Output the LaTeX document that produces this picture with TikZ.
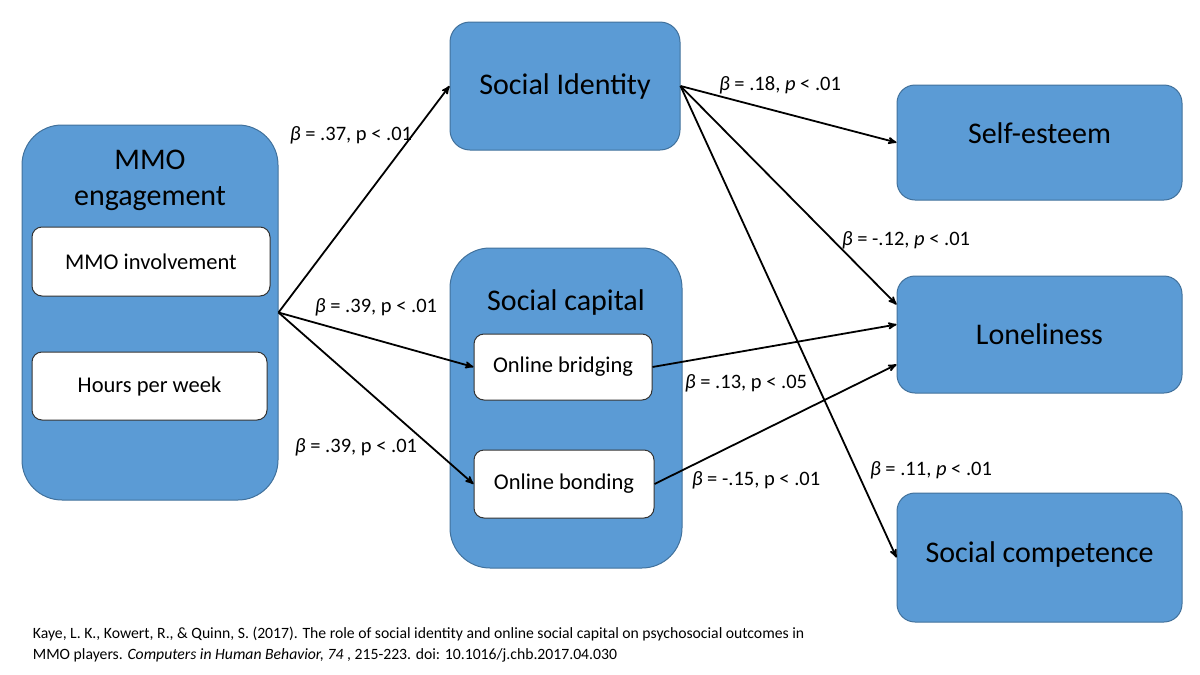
\documentclass[tikz,border=0pt]{standalone}
\usepackage{fontspec}
\setmainfont{Carlito}
\usetikzlibrary{arrows,positioning}
\definecolor{boxblue}{HTML}{5B9BD5}
\definecolor{boxline}{HTML}{41719C}
\newcommand{\bet}{{\itshape β}}

\begin{document}
\begin{tikzpicture}[x=1pt,y=-1pt,->,>=stealth',
                    line width=1.8pt]
  \tikzstyle{group}=[rectangle,draw=boxline,fill=boxblue,line width=1pt,
                     rounded corners=40pt,inner sep=0pt]
  \tikzstyle{outcome}=[rectangle,draw=boxline,fill=boxblue,line width=1pt,
                     rounded corners=18pt,inner sep=0pt,minimum width=285pt,
                     font=\fontsize{30}{36}\selectfont]
  \tikzstyle{item}=[rectangle,draw=black!80,fill=white,line width=1pt,
                     rounded corners=10pt,inner sep=0pt,
                     font=\fontsize{22.5}{27}\selectfont]
  \tikzstyle{coef}=[font=\fontsize{20.5}{24}\selectfont]

  \useasboundingbox (0,0) rectangle (1200,675);

  % left block
  \node[group,minimum width=256pt,minimum height=375pt] (mmo) at (150,312.5) {};
  \node[font=\fontsize{30}{36}\selectfont,align=center] (mmotitle) at (150,180) {MMO\\engagement};
  \node[item,minimum width=238pt,minimum height=69pt] (inv) at (151,261.5) {MMO involvement};
  \node[item,minimum width=235pt,minimum height=68pt] (hrs) at (149.5,386) {Hours per week};

  % middle
  \node[outcome,rounded corners=20pt,minimum width=230pt,minimum height=128pt] (si) at (565,86) {\raisebox{4pt}{Social Identity}};
  \node[group,minimum width=232pt,minimum height=320pt] (cap) at (566,408) {};
  \node[font=\fontsize{30}{36}\selectfont] (captitle) at (566,302) {Social capital};
  \node[item,minimum width=178pt,minimum height=66pt] (brd) at (563,367) {Online bridging};
  \node[item,minimum width=180pt,minimum height=68pt] (bnd) at (564,484) {Online bonding};

  % outcomes
  \node[outcome,minimum height=115pt] (se) at (1039.5,142.5) {\raisebox{18pt}{Self-esteem}};
  \node[outcome,minimum height=117pt] (lon) at (1039.5,334.5) {Loneliness};
  \node[outcome,minimum height=129pt] (sc) at (1039.5,557.5) {\raisebox{10pt}{Social competence}};

  % paths
  \draw (mmo.east) -- (si.west);
  \draw (mmo.east) -- (brd.west);
  \draw (mmo.east) -- (bnd.west);
  \draw (si.east) -- (se.west);
  \draw (si.east) -- ([yshift=30pt]lon.west);
  \draw (si.east) -- (sc.west);
  \draw (brd.east) -- ([yshift=10pt]lon.west);
  \draw (bnd.east) -- ([yshift=-30pt]lon.west);

  \node[coef] (c1) at (351,135) {\bet{} = .37, p < .01};
  \node[coef] (c2) at (376,307) {\bet{} = .39, p < .01};
  \node[coef] (c3) at (356,447) {\bet{} = .39, p < .01};
  \node[coef] (c4) at (780,85) {\bet{} = .18, \textit{p} < .01};
  \node[coef] (c5) at (906,240) {\bet{} = -.12, \textit{p} < .01};
  \node[coef] (c6) at (746,383) {\bet{} = .13, p < .05};
  \node[coef] (c7) at (756,480) {\bet{} = -.15, p < .01};
  \node[coef] (c8) at (931,470) {\bet{} = .11, \textit{p} < .01};

  \node[anchor=north west,align=left,font=\fontsize{15.7}{21}\selectfont,inner sep=0pt] (ref) at (32,626)
    {Kaye, L. K., Kowert, R., \& Quinn, S. (2017). The role of social identity and online social capital on psychosocial outcomes in\\
     MMO players. \textit{Computers in Human Behavior, 74} , 215-223. doi: 10.1016/j.chb.2017.04.030};
\end{tikzpicture}
\end{document}
